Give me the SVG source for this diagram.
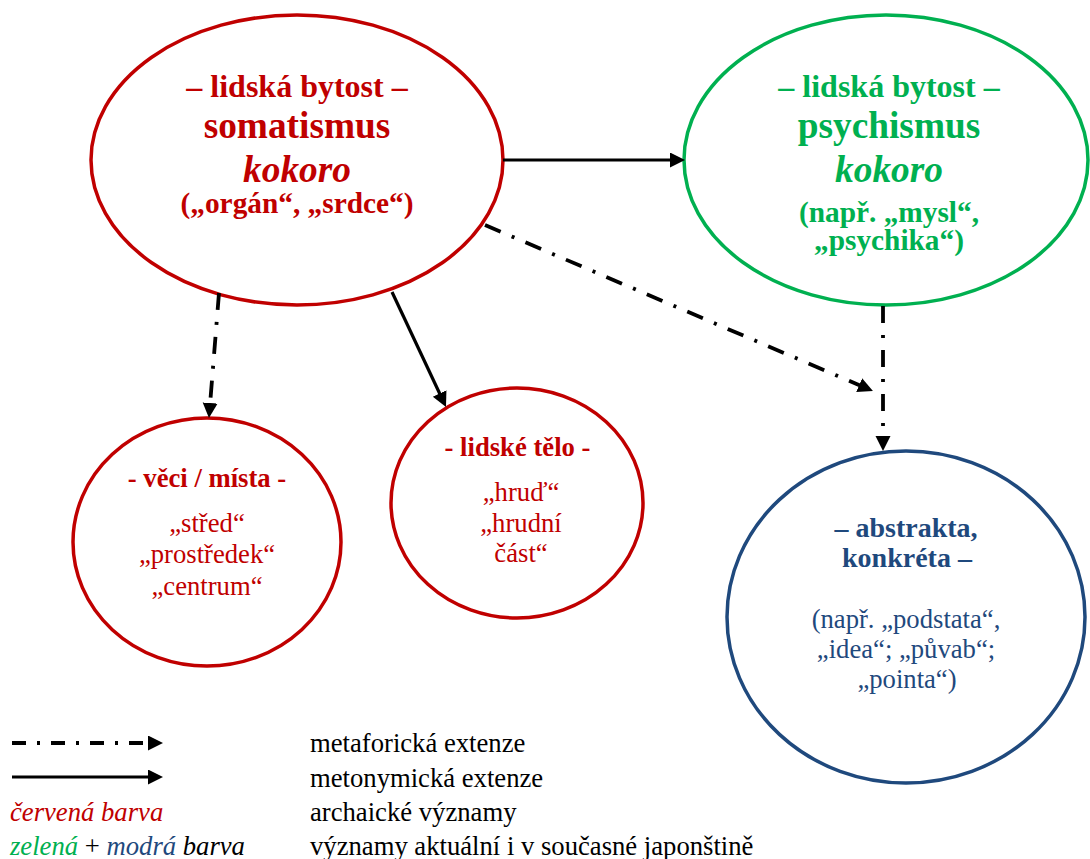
<svg xmlns="http://www.w3.org/2000/svg" width="1090" height="859" viewBox="0 0 1090 859">
<style>
text{font-family:"Liberation Serif","Times New Roman",serif;text-anchor:middle}
.red{fill:#C00000}.green{fill:#00B050}.blue{fill:#1F497D}.blk{fill:#000}
.b{font-weight:bold}.i{font-style:italic}
.s32{font-size:32px}.s37{font-size:37.33px}.s29{font-size:29.33px}.s27{font-size:26.67px}.s28{font-size:28px}
.node{fill:#fff;stroke-width:3.5}
.solid{fill:none;stroke:#000;stroke-width:3.2}
.dd{fill:none;stroke:#000;stroke-width:3.8;stroke-dasharray:17 12 3 12}
.lg{text-anchor:start;font-size:26.67px}
</style>
<defs>
<marker id="ah" markerUnits="userSpaceOnUse" markerWidth="16" markerHeight="16" refX="7" refY="7.5" orient="auto">
<path d="M0,0 L15,7.5 L0,15 z" fill="#000"/>
</marker>
</defs>

<g id="n-somatismus">
<ellipse class="node" cx="297" cy="160" rx="206" ry="145" stroke="#C00000"/>
<text class="red b s32" x="297" y="97">– lidská bytost –</text>
<text class="red b s37" x="297" y="138">somatismus</text>
<text class="red b i s37" x="297" y="182">kokoro</text>
<text class="red b s29" x="297" y="213">(„orgán“, „srdce“)</text>
</g>

<g id="n-psychismus">
<ellipse class="node" cx="886" cy="160" rx="202" ry="145" stroke="#00B050"/>
<text class="green b s32" x="889" y="97">– lidská bytost –</text>
<text class="green b s37" x="889" y="138">psychismus</text>
<text class="green b i s37" x="889" y="182">kokoro</text>
<text class="green b s29" x="889" y="222">(např. „mysl“,</text>
<text class="green b s29" x="889" y="250">„psychika“)</text>
</g>

<g id="n-veci">
<ellipse class="node" cx="207" cy="542" rx="134" ry="124" stroke="#C00000"/>
<text class="red b s27" x="207" y="487">- věci / místa -</text>
<text class="red s27" x="207" y="532">„střed“</text>
<text class="red s27" x="207" y="563">„prostředek“</text>
<text class="red s27" x="207" y="595">„centrum“</text>
</g>

<g id="n-telo">
<ellipse class="node" cx="517" cy="503" rx="126" ry="115" stroke="#C00000"/>
<text class="red b s27" x="517.5" y="456">- lidské tělo -</text>
<text class="red s27" x="521" y="501">„hruď“</text>
<text class="red s27" x="521" y="532">„hrudní</text>
<text class="red s27" x="521" y="562">část“</text>
</g>

<g id="n-abstrakta">
<ellipse class="node" cx="906" cy="617" rx="179" ry="166" stroke="#1F497D"/>
<text class="blue b s28" x="906" y="537">– abstrakta,</text>
<text class="blue b s28" x="907" y="567">konkréta –</text>
<text class="blue s27" x="906" y="628">(např. „podstata“,</text>
<text class="blue s27" x="906" y="658">„idea“; „půvab“;</text>
<text class="blue s27" x="907" y="688">„pointa“)</text>
</g>

<g id="connectors">
<line class="solid" x1="503" y1="160" x2="677" y2="160" marker-end="url(#ah)"/>
<line class="dd" x1="219" y1="293" x2="209.6" y2="410" marker-end="url(#ah)"/>
<line class="solid" x1="392" y1="292" x2="442.6" y2="399.8" marker-end="url(#ah)"/>
<line class="dd" x1="485" y1="225" x2="865.6" y2="387.9" marker-end="url(#ah)"/>
<line class="dd" x1="883" y1="306" x2="883" y2="443" marker-end="url(#ah)"/>
</g>

<g id="legend">
<line class="dd" x1="12" y1="743" x2="155" y2="743" style="stroke-dasharray:14 11 3 11" marker-end="url(#ah)"/>
<line class="solid" x1="12" y1="777" x2="155" y2="777" marker-end="url(#ah)"/>
<text class="lg blk" x="310" y="752">metaforická extenze</text>
<text class="lg blk" x="310" y="787">metonymická extenze</text>
<text class="lg blk" x="310" y="821">archaické významy</text>
<text class="lg blk" x="310" y="855">významy aktuální i v současné japonštině</text>
<text class="lg red i" x="10" y="821">červená barva</text>
<text class="lg i" x="10" y="855"><tspan class="green">zelená</tspan><tspan class="blk" font-style="normal"> + </tspan><tspan class="blue">modrá</tspan><tspan class="blk"> barva</tspan></text>
</g>
</svg>
